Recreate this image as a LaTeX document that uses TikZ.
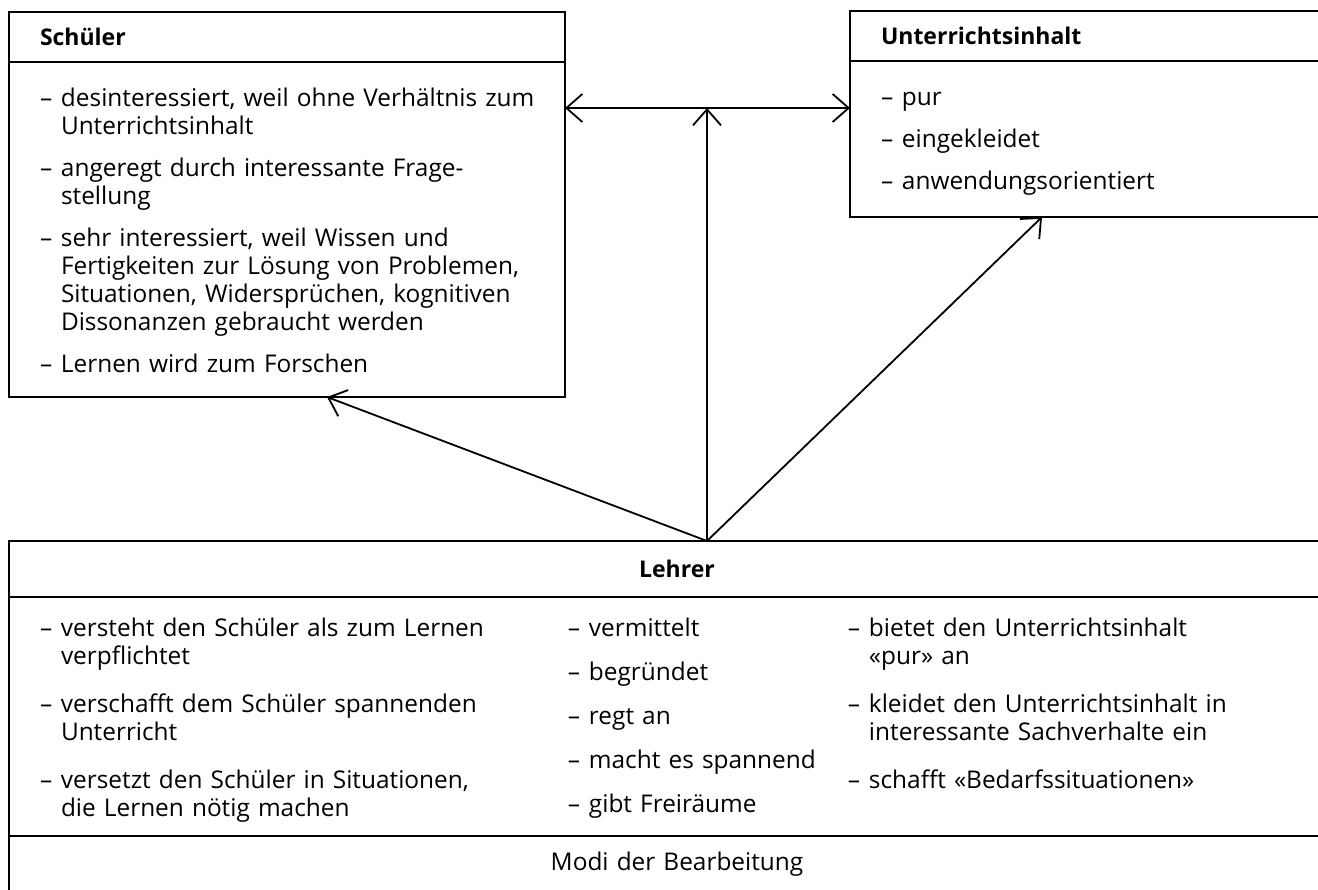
\documentclass[tikz,border=0pt]{standalone}
\usepackage{fontspec}
\setmainfont{Open Sans}
\usetikzlibrary{positioning,arrows.meta}

\newlength{\strich}
\setlength{\strich}{21pt}
% ein Spiegelstrich, Folgezeilen buendig unter dem Text
\newcommand{\punkt}[1]{\par\noindent\makebox[\strich][l]{–}\begin{tabular}[t]{@{}l@{}}#1\end{tabular}}
% Text im Kasten etwas nach oben/unten ruecken
\newcommand{\unten}[1]{\par\vspace{#1}\hrule height 0pt width 0pt}

\tikzset{
  kasten/.style={draw, line width=1.8pt, outer sep=0pt, inner xsep=31pt, inner ysep=0pt,
    align=left, font=\fontsize{24.4}{28}\selectfont},
  titel/.style={kasten, minimum height=50pt, font=\bfseries\fontsize{23}{28}\selectfont},
  pfeil/.style={line width=1.8pt, >={Straight Barb[length=16pt,width=28pt]}}
}

\begin{document}
\begin{tikzpicture}[x=1pt,y=-1pt]
  \useasboundingbox (0,0) rectangle (1318,890);

  % Schueler
  \node[titel, anchor=north west, text width=494pt] (schueler) at (9,12) {Schüler};
  \node[kasten, text width=494pt, minimum height=335pt, below=0pt of schueler] (schuelerInhalt)
    {\setlength{\parskip}{13pt}%
     \punkt{desinteressiert, weil ohne Verhältnis zum\\Unterrichtsinhalt}
     \punkt{angeregt durch interessante Frage-\\stellung}
     \punkt{sehr interessiert, weil Wissen und\\Fertigkeiten zur Lösung von Problemen,\\Situationen, Widersprüchen, kognitiven\\Dissonanzen gebraucht werden}
     \punkt{Lernen wird zum Forschen}\unten{12pt}};

  % Unterrichtsinhalt
  \node[titel, anchor=north west, text width=433pt] (inhalt) at (850,11) {Unterrichtsinhalt};
  \node[kasten, text width=433pt, minimum height=156pt, below=0pt of inhalt] (inhaltInhalt)
    {\setlength{\parskip}{14pt}%
     \punkt{pur}
     \punkt{eingekleidet}
     \punkt{anwendungsorientiert}\unten{16pt}};

  % Lehrer
  \node[titel, anchor=north west, text width=1274pt, align=center, minimum height=56pt] (lehrer) at (9,541) {Lehrer};
  \node[kasten, text width=1274pt, minimum height=239pt, below=0pt of lehrer] (lehrerInhalt)
    {\parbox[t]{528pt}{\setlength{\parskip}{19pt}%
       \punkt{versteht den Schüler als zum Lernen\\verpflichtet}
       \punkt{verschafft dem Schüler spannenden\\Unterricht}
       \punkt{versetzt den Schüler in Situationen,\\die Lernen nötig machen}}%
     \parbox[t]{280pt}{\setlength{\parskip}{16pt}%
       \punkt{vermittelt}
       \punkt{begründet}
       \punkt{regt an}
       \punkt{macht es spannend}
       \punkt{gibt Freiräume}}%
     \parbox[t]{466pt}{\setlength{\parskip}{19pt}%
       \punkt{bietet den Unterrichtsinhalt\\«pur» an}
       \punkt{kleidet den Unterrichtsinhalt in\\interessante Sachverhalte ein}
       \punkt{schafft «Bedarfssituationen»}}\unten{-8pt}};
  \node[kasten, text width=1274pt, align=center, minimum height=56pt, below=0pt of lehrerInhalt] (modi) {Modi der Bearbeitung};

  % Verbindungen
  \coordinate (knoten) at (707,108);
  \draw[pfeil, <->] (schuelerInhalt.east |- knoten) -- (inhaltInhalt.west |- knoten);
  \draw[pfeil, ->] (lehrer.north -| knoten) -- (knoten);
  \draw[pfeil, ->] (lehrer.north -| knoten) -- ([xshift=318pt]schuelerInhalt.south west);
  \draw[pfeil, ->] (lehrer.north -| knoten) -- ([xshift=192pt]inhaltInhalt.south west);
\end{tikzpicture}
\end{document}
